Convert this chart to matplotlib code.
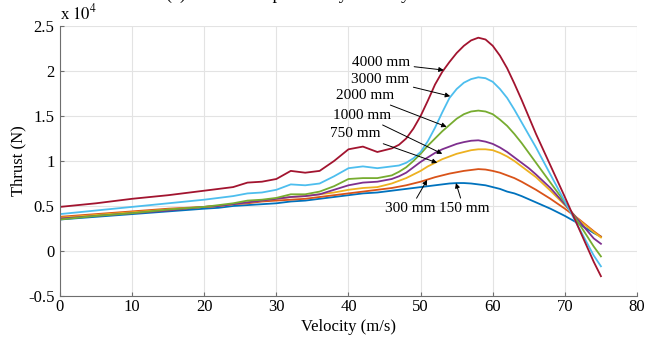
import numpy as np
import matplotlib
matplotlib.use("Agg")
import matplotlib.pyplot as plt

plt.rcParams['font.family'] = ['Liberation Serif', 'DejaVu Serif']
plt.rcParams['mathtext.fontset'] = 'stix'

# velocity (m/s) and thrust (x 1e4 N) per propeller size
velocity = [0, 5, 10, 15, 20, 22, 24, 26, 28, 30, 32, 34, 36, 38, 40, 42, 44,
            46, 47, 48, 49, 50, 51, 52, 53, 54, 55, 56, 57, 58, 59, 60, 61,
            62, 63, 64, 65, 66, 68, 70, 72, 74, 75]

thrust_150 = [0.35, 0.38, 0.41, 0.44, 0.47, 0.48, 0.50, 0.51, 0.52, 0.53, 0.55,
              0.56, 0.58, 0.60, 0.62, 0.64, 0.65,
              0.67, 0.68, 0.69, 0.70, 0.71, 0.72, 0.73, 0.74, 0.75, 0.755, 0.755,
              0.75, 0.74, 0.73, 0.71, 0.69, 0.66, 0.64, 0.61, 0.575, 0.54,
              0.47, 0.39, 0.30, 0.20, 0.16]
thrust_300 = [0.38, 0.41, 0.44, 0.47, 0.49, 0.50, 0.52, 0.53, 0.55, 0.56, 0.57,
              0.58, 0.60, 0.62, 0.64, 0.66, 0.68,
              0.70, 0.715, 0.73, 0.75, 0.77, 0.795, 0.82, 0.84, 0.86, 0.875, 0.89,
              0.90, 0.91, 0.905, 0.89, 0.87, 0.84, 0.81, 0.77, 0.725, 0.68,
              0.58, 0.47, 0.35, 0.22, 0.16]
thrust_750 = [0.37, 0.40, 0.43, 0.46, 0.49, 0.50, 0.52, 0.54, 0.56, 0.58, 0.60,
              0.61, 0.63, 0.65, 0.68, 0.70, 0.71,
              0.75, 0.78, 0.81, 0.85, 0.89, 0.94, 0.98, 1.02, 1.05, 1.08, 1.10,
              1.12, 1.13, 1.13, 1.12, 1.09, 1.05, 1.00, 0.94, 0.88, 0.82,
              0.67, 0.51, 0.34, 0.21, 0.15]
thrust_1000 = [0.36, 0.39, 0.42, 0.45, 0.49, 0.50, 0.52, 0.54, 0.56, 0.58, 0.60,
               0.61, 0.63, 0.68, 0.73, 0.76, 0.77,
               0.80, 0.83, 0.87, 0.93, 0.99, 1.04, 1.09, 1.13, 1.16, 1.19, 1.21,
               1.225, 1.23, 1.215, 1.19, 1.15, 1.10, 1.04, 0.98, 0.92, 0.85,
               0.70, 0.52, 0.33, 0.14, 0.08]
thrust_2000 = [0.35, 0.39, 0.42, 0.46, 0.49, 0.51, 0.53, 0.56, 0.57, 0.59, 0.63,
               0.63, 0.66, 0.72, 0.80, 0.81, 0.81,
               0.84, 0.88, 0.93, 1.00, 1.08, 1.17, 1.25, 1.33, 1.40, 1.47, 1.52,
               1.55, 1.56, 1.55, 1.52, 1.46, 1.39, 1.30, 1.20, 1.09, 0.98,
               0.76, 0.54, 0.30, 0.05, -0.06]
thrust_3000 = [0.41, 0.45, 0.49, 0.53, 0.57, 0.59, 0.61, 0.64, 0.65, 0.68, 0.74,
               0.73, 0.75, 0.83, 0.92, 0.94, 0.92,
               0.94, 0.95, 0.98, 1.03, 1.10, 1.22, 1.37, 1.54, 1.70, 1.80, 1.87,
               1.91, 1.93, 1.92, 1.88, 1.80, 1.70, 1.57, 1.43, 1.29, 1.15,
               0.85, 0.55, 0.25, -0.05, -0.17]
thrust_4000 = [0.49, 0.53, 0.58, 0.62, 0.67, 0.69, 0.71, 0.76, 0.77, 0.80, 0.89,
               0.87, 0.89, 1.00, 1.13, 1.16, 1.10,
               1.14, 1.18, 1.25, 1.36, 1.50, 1.67, 1.85, 1.99, 2.10, 2.20, 2.28,
               2.34, 2.37, 2.35, 2.28, 2.17, 2.03, 1.86, 1.68, 1.49, 1.30,
               0.95, 0.60, 0.24, -0.12, -0.28]

series = [thrust_150, thrust_300, thrust_750, thrust_1000,
          thrust_2000, thrust_3000, thrust_4000]
colors = ['#0072BD', '#D95319', '#EDB120', '#7E2F8E',
          '#77AC30', '#4DBEEE', '#A2142F']

fig = plt.figure(figsize=(6.54, 3.42), dpi=100)
ax = fig.add_axes([0.0917, 0.1345, 0.8823, 0.7895])

for y, c in zip(series, colors):
    ax.plot(velocity, y, color=c, lw=1.3)

ax.set_xlim(0, 80)
ax.set_ylim(-0.5, 2.5)
ax.set_xticks(np.arange(0, 81, 10))
ax.set_yticks([-0.5, 0, 0.5, 1, 1.5, 2, 2.5])
ax.set_yticklabels(['-0.5', '0', '0.5', '1', '1.5', '2', '2.5'])
ax.grid(True, color='#e3e3e3', lw=0.8)
ax.set_axisbelow(True)
for s in ['top', 'right']:
    ax.spines[s].set_visible(False)
for s in ['left', 'bottom']:
    ax.spines[s].set_color('#6e6e6e')
    ax.spines[s].set_linewidth(0.8)
ax.tick_params(direction='in', length=3, width=0.8, color='#6e6e6e',
               labelsize=12, labelcolor='black', pad=2)
ax.tick_params(axis='y', pad=4)

ax.set_xlabel('Velocity (m/s)', fontsize=12, labelpad=3)
ax.set_ylabel('Thrust (N)', fontsize=12, labelpad=1)
ax.text(0.0, 1.01, r'x $10^{4}$', transform=ax.transAxes, fontsize=12,
        ha='left', va='bottom')

# partially cropped figure title
fig.text(0.44, 1.003, '(c) Thrust comparison by velocity', fontsize=13,
         ha='center', va='baseline')

# size labels with arrows (label centre, arrow tip on the curve)
labels = ['4000 mm', '3000 mm', '2000 mm', '1000 mm', '750 mm', '300 mm', '150 mm']
label_pos = [(44.5, 2.09), (44.4, 1.91), (42.3, 1.73), (41.9, 1.51),
             (41.0, 1.30), (48.6, 0.47), (56.0, 0.47)]
tips = [(53.2, 2.01), (54.1, 1.72), (53.6, 1.38), (53.0, 1.08),
        (52.3, 0.98), (50.9, 0.79), (54.9, 0.755)]
for lab, (lx, ly), (tx, ty) in zip(labels, label_pos, tips):
    ax.annotate(lab, xy=(tx, ty), xytext=(lx, ly), fontsize=11, ha='center',
                va='center',
                arrowprops=dict(arrowstyle='-|>', color='black', lw=0.7,
                                mutation_scale=7, shrinkA=1, shrinkB=0))

fig.savefig('out.png', dpi=100)
